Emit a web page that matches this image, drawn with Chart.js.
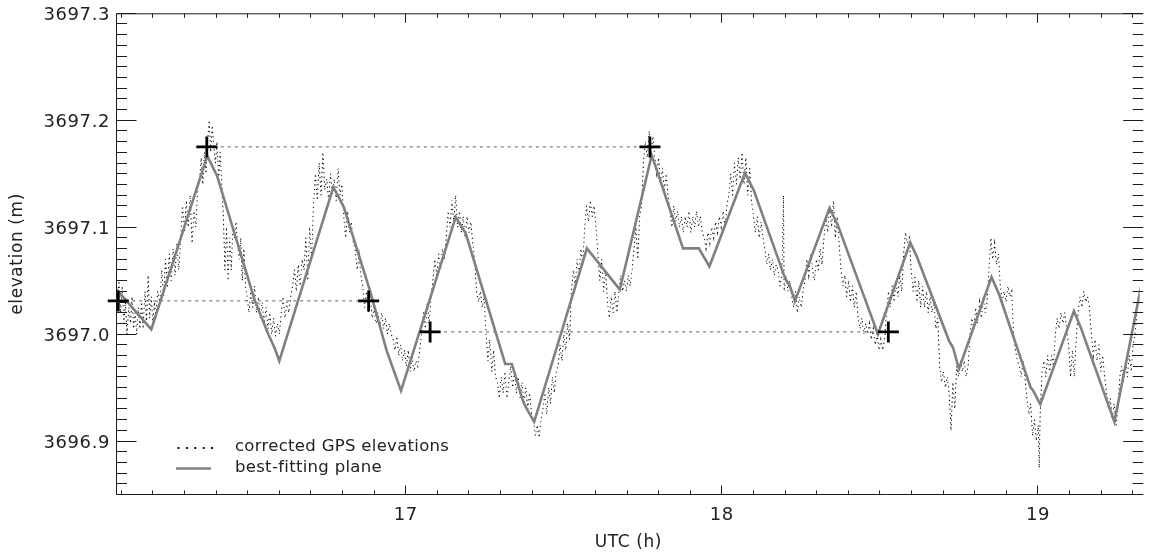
<!DOCTYPE html>
<html><head><meta charset="utf-8">
<script src="https://cdn.jsdelivr.net/npm/chart.js@4.4.1/dist/chart.umd.min.js"></script>
<style>html,body{margin:0;padding:0;background:#fff;overflow:hidden}</style>
</head><body>
<canvas id="c" width="1153" height="558"></canvas>
<script>
// ---- data (UTC hours, elevation m) ----
const xTickLabels = ['17', '18', '19'];
const yTickLabels = ['3696.9', '3697.0', '3697.1', '3697.2', '3697.3'];
const xTitle = 'UTC (h)';
const yTitle = 'elevation (m)';
const legendLabels = ['corrected GPS elevations', 'best-fitting plane'];

const gpsElev = [
[16.088,3697.035],[16.093,3697.05],[16.098,3697.02],[16.103,3697.045],[16.108,3697.01],[16.113,3697.03],[16.118,3697.0],[16.124,3697.025],[16.129,3697.01],[16.134,3697.035],[16.139,3697.005],[16.144,3697.02],
[16.149,3697.0],[16.154,3697.025],[16.159,3697.005],[16.164,3697.03],
[16.169,3697.005],[16.175,3697.04],[16.18,3697.01],[16.185,3697.055],[16.19,3697.015],[16.195,3697.035],[16.2,3697.01],[16.205,3697.03],[16.21,3697.015],[16.215,3697.04],
[16.222,3697.03],[16.228,3697.06],[16.234,3697.035],[16.24,3697.07],[16.246,3697.045],[16.252,3697.075],[16.258,3697.05],[16.264,3697.08],[16.27,3697.055],[16.276,3697.085],[16.282,3697.06],
[16.288,3697.09],[16.294,3697.12],[16.3,3697.095],[16.306,3697.125],[16.312,3697.1],[16.318,3697.13],[16.324,3697.085],[16.33,3697.115],[16.336,3697.1],[16.342,3697.14],
[16.348,3697.145],[16.353,3697.165],[16.358,3697.14],[16.363,3697.17],[16.368,3697.15],
[16.373,3697.18],[16.378,3697.2],[16.383,3697.17],[16.388,3697.195],[16.393,3697.175],
[16.398,3697.16],[16.403,3697.18],[16.408,3697.145],[16.413,3697.17],[16.418,3697.14],
[16.423,3697.11],[16.428,3697.06],[16.433,3697.1],[16.438,3697.05],[16.443,3697.09],[16.448,3697.06],
[16.453,3697.1],[16.458,3697.09],[16.463,3697.105],[16.468,3697.085],
[16.473,3697.07],[16.478,3697.09],[16.483,3697.05],[16.488,3697.08],[16.493,3697.045],
[16.498,3697.035],[16.504,3697.02],[16.51,3697.04],[16.516,3697.025],[16.522,3697.045],[16.528,3697.02],[16.534,3697.035],[16.54,3697.015],[16.546,3697.03],[16.552,3697.01],[16.558,3697.025],[16.564,3697.005],
[16.57,3697.02],[16.576,3697.0],[16.582,3697.015],[16.588,3696.998],[16.594,3697.01],[16.6,3697.0],
[16.606,3697.02],[16.612,3697.035],[16.618,3697.015],[16.624,3697.03],[16.63,3697.02],[16.636,3697.035],
[16.642,3697.045],[16.648,3697.06],[16.654,3697.04],[16.66,3697.065],[16.666,3697.045],[16.672,3697.07],
[16.678,3697.06],[16.684,3697.09],[16.69,3697.05],[16.696,3697.1],[16.702,3697.07],
[16.708,3697.12],[16.714,3697.15],[16.72,3697.125],[16.726,3697.16],[16.732,3697.13],[16.738,3697.17],[16.744,3697.135],
[16.75,3697.145],[16.756,3697.125],[16.762,3697.15],[16.768,3697.13],[16.774,3697.145],[16.78,3697.125],[16.786,3697.155],[16.792,3697.13],[16.798,3697.14],
[16.804,3697.11],[16.81,3697.09],[16.816,3697.115],[16.822,3697.095],[16.828,3697.105],[16.834,3697.085],
[16.84,3697.08],[16.846,3697.06],[16.852,3697.075],[16.858,3697.055],
[16.864,3697.045],[16.87,3697.025],[16.876,3697.04],[16.882,3697.02],[16.888,3697.035],[16.894,3697.015],
[16.9,3697.025],[16.906,3697.01],[16.912,3697.02],[16.918,3697.005],
[16.924,3697.02],[16.93,3697.005],[16.936,3697.015],[16.942,3697.0],[16.948,3697.01],[16.954,3697.0],
[16.96,3696.995],[16.966,3696.985],[16.972,3696.998],[16.978,3696.98],[16.984,3696.99],[16.99,3696.975],[16.996,3696.985],
[17.002,3696.97],[17.008,3696.985],[17.014,3696.965],[17.02,3696.98],[17.026,3696.965],[17.032,3696.975],[17.038,3696.97],[17.044,3696.985],
[17.05,3697.0],[17.056,3697.02],[17.062,3697.005],[17.068,3697.03],[17.074,3697.01],[17.08,3697.035],
[17.086,3697.05],[17.092,3697.07],[17.098,3697.055],[17.104,3697.075],[17.11,3697.06],[17.116,3697.08],[17.122,3697.07],
[17.128,3697.09],[17.134,3697.115],[17.14,3697.1],[17.146,3697.125],[17.152,3697.105],[17.158,3697.13],
[17.164,3697.1],[17.17,3697.115],[17.176,3697.095],[17.182,3697.11],[17.188,3697.09],[17.194,3697.11],[17.2,3697.095],[17.206,3697.105],
[17.212,3697.085],[17.218,3697.07],
[17.224,3697.04],[17.23,3697.03],[17.236,3697.04],[17.242,3697.025],[17.248,3697.035],
[17.254,3697.0],[17.26,3696.975],[17.266,3696.995],[17.272,3696.965],[17.278,3696.985],[17.284,3696.96],
[17.29,3696.955],[17.296,3696.94],[17.302,3696.96],[17.308,3696.945],[17.314,3696.965],[17.32,3696.94],[17.326,3696.955],
[17.332,3696.97],[17.338,3696.95],[17.344,3696.965],[17.35,3696.945],[17.356,3696.96],[17.362,3696.94],[17.368,3696.955],
[17.374,3696.935],[17.38,3696.95],[17.386,3696.93],[17.392,3696.945],[17.398,3696.925],
[17.404,3696.92],[17.41,3696.905],[17.416,3696.915],[17.422,3696.903],[17.428,3696.92],
[17.434,3696.93],[17.44,3696.945],[17.446,3696.925],[17.452,3696.95],[17.458,3696.935],[17.464,3696.96],[17.47,3696.945],[17.476,3696.965],
[17.482,3696.97],[17.488,3696.99],[17.494,3696.975],[17.5,3697.0],[17.506,3696.985],[17.512,3697.01],[17.518,3696.995],
[17.524,3697.04],[17.53,3697.06],[17.536,3697.045],[17.542,3697.07],[17.548,3697.055],[17.554,3697.08],[17.56,3697.065],
[17.566,3697.1],[17.572,3697.12],[17.578,3697.105],[17.584,3697.125],[17.59,3697.11],[17.596,3697.12],[17.602,3697.1],
[17.608,3697.075],[17.614,3697.05],[17.62,3697.07],[17.626,3697.04],[17.632,3697.06],
[17.638,3697.03],[17.644,3697.015],[17.65,3697.035],[17.656,3697.02],[17.662,3697.04],[17.668,3697.02],
[17.674,3697.04],[17.68,3697.055],[17.686,3697.04],[17.692,3697.05],[17.698,3697.04],[17.704,3697.055],[17.71,3697.045],[17.716,3697.06],
[17.722,3697.08],[17.728,3697.1],[17.734,3697.07],[17.74,3697.11],[17.746,3697.12],
[17.752,3697.16],[17.758,3697.18],[17.764,3697.165],[17.77,3697.19],[17.776,3697.17],[17.782,3697.185],[17.788,3697.165],
[17.794,3697.15],[17.8,3697.165],[17.806,3697.14],[17.812,3697.155],[17.818,3697.135],[17.824,3697.15],[17.83,3697.13],
[17.836,3697.115],[17.842,3697.1],[17.848,3697.12],[17.854,3697.105],[17.86,3697.115],[17.866,3697.1],[17.872,3697.11],
[17.878,3697.095],[17.884,3697.11],[17.89,3697.1],[17.896,3697.115],[17.902,3697.095],[17.908,3697.11],[17.914,3697.1],[17.92,3697.115],[17.926,3697.1],[17.932,3697.11],[17.938,3697.095],
[17.944,3697.09],[17.95,3697.08],[17.956,3697.095],[17.962,3697.085],[17.968,3697.1],[17.974,3697.09],
[17.98,3697.105],[17.986,3697.095],[17.992,3697.11],[17.998,3697.1],[18.004,3697.115],[18.01,3697.1],[18.016,3697.12],
[18.022,3697.13],[18.028,3697.15],[18.034,3697.13],[18.04,3697.16],[18.046,3697.14],[18.052,3697.165],[18.058,3697.145],[18.064,3697.17],
[18.07,3697.14],[18.076,3697.165],[18.082,3697.13],[18.088,3697.155],[18.094,3697.125],
[18.1,3697.11],[18.106,3697.095],[18.112,3697.11],[18.118,3697.09],[18.124,3697.105],[18.13,3697.09],
[18.136,3697.08],[18.142,3697.065],[18.148,3697.075],[18.154,3697.06],[18.16,3697.07],[18.166,3697.055],[18.172,3697.065],
[18.178,3697.06],[18.184,3697.045],[18.19,3697.055],[18.195,3697.13],[18.197,3697.04],
[18.203,3697.055],[18.209,3697.04],[18.215,3697.05],[18.221,3697.035],
[18.227,3697.025],[18.233,3697.04],[18.239,3697.02],[18.245,3697.035],[18.251,3697.025],[18.257,3697.04],
[18.263,3697.05],[18.269,3697.07],[18.275,3697.055],[18.281,3697.075],[18.287,3697.06],[18.293,3697.05],[18.299,3697.07],[18.305,3697.06],[18.311,3697.08],[18.317,3697.065],
[18.323,3697.09],[18.329,3697.11],[18.335,3697.095],[18.341,3697.12],[18.347,3697.1],[18.353,3697.125],[18.359,3697.09],[18.365,3697.11],[18.371,3697.085],
[18.377,3697.06],[18.383,3697.045],[18.389,3697.055],[18.395,3697.035],[18.401,3697.05],[18.407,3697.03],[18.413,3697.045],[18.419,3697.025],[18.425,3697.04],
[18.431,3697.015],[18.437,3697.005],[18.443,3697.015],[18.449,3697.0],[18.455,3697.01],[18.461,3697.0],[18.467,3697.01],
[18.473,3696.995],[18.479,3697.005],[18.485,3696.99],[18.491,3697.0],[18.497,3696.985],[18.503,3696.995],[18.509,3696.985],[18.515,3696.995],
[18.521,3697.02],[18.527,3697.04],[18.533,3697.025],[18.539,3697.045],[18.545,3697.03],[18.551,3697.05],[18.557,3697.035],[18.563,3697.055],[18.569,3697.04],
[18.575,3697.075],[18.581,3697.095],[18.587,3697.085],[18.593,3697.09],
[18.599,3697.06],[18.605,3697.04],[18.611,3697.055],[18.617,3697.03],[18.623,3697.05],[18.629,3697.025],[18.635,3697.045],
[18.641,3697.025],[18.647,3697.04],[18.653,3697.02],[18.659,3697.035],[18.665,3697.02],[18.671,3697.03],[18.677,3697.005],[18.683,3697.015],
[18.689,3696.97],[18.695,3696.955],[18.701,3696.965],[18.707,3696.95],[18.713,3696.96],[18.719,3696.945],[18.725,3696.91],[18.731,3696.955],[18.737,3696.93],
[18.743,3696.97],[18.749,3696.96],[18.755,3696.975],[18.761,3696.965],[18.767,3696.975],[18.773,3696.96],[18.779,3696.97],
[18.785,3697.0],[18.791,3697.015],[18.797,3697.005],[18.803,3697.025],[18.809,3697.01],[18.815,3697.03],[18.821,3697.015],[18.827,3697.035],[18.833,3697.02],[18.839,3697.03],
[18.845,3697.06],[18.851,3697.09],[18.857,3697.07],[18.863,3697.085],[18.869,3697.065],[18.875,3697.075],
[18.881,3697.045],[18.887,3697.03],[18.893,3697.04],[18.899,3697.03],[18.905,3697.045],[18.911,3697.035],[18.917,3697.04],
[18.923,3697.0],[18.929,3696.985],[18.935,3696.975],[18.941,3696.97],[18.947,3696.96],[18.953,3696.975],[18.959,3696.96],
[18.965,3696.94],[18.971,3696.925],[18.977,3696.935],[18.983,3696.905],[18.989,3696.92],[18.995,3696.9],[19.001,3696.915],[19.004,3696.875],[19.007,3696.925],
[19.013,3696.965],[19.019,3696.975],[19.025,3696.96],[19.031,3696.98],[19.037,3696.965],[19.043,3696.98],[19.049,3696.97],
[19.055,3697.0],[19.061,3697.015],[19.067,3697.005],[19.073,3697.02],[19.079,3697.01],[19.085,3697.02],[19.091,3697.005],
[19.097,3696.99],[19.103,3696.96],[19.109,3696.985],[19.115,3696.96],[19.121,3696.995],
[19.127,3697.02],[19.133,3697.035],[19.139,3697.025],[19.145,3697.04],[19.151,3697.03],[19.157,3697.035],[19.163,3697.025],
[19.169,3697.0],[19.175,3696.98],[19.181,3696.995],[19.187,3696.975],[19.193,3696.99],[19.199,3696.965],[19.205,3696.98],[19.211,3696.96],
[19.217,3696.945],[19.223,3696.93],[19.229,3696.94],[19.235,3696.92],[19.241,3696.935],[19.247,3696.915],[19.253,3696.93],
[19.259,3696.96],[19.265,3696.97],[19.271,3696.955],[19.277,3696.975],[19.283,3696.96],[19.289,3696.98],[19.295,3696.965],[19.301,3696.99],[19.307,3697.0],[19.313,3697.02]
];

const planeH = [16.0856,16.195,16.372,16.403,16.523,16.565,16.586,16.600,16.771,16.804,16.8875,16.94,16.985,17.158,17.19,17.3147,17.3356,17.3719,17.3825,17.4062,17.5731,17.6772,17.7781,17.8772,17.9272,17.9606,18.0731,18.1013,18.2,18.2156,18.2313,18.3406,18.3669,18.4938,18.5959,18.6169,18.7188,18.7313,18.75,18.8531,18.8772,18.9763,18.9844,19.0075,19.1138,19.1356,19.2419,19.34];
const planeV = [3697.0416,3697.0045,3697.1667,3697.1482,3697.0308,3697.000,3696.9863,3696.975,3697.1374,3697.1188,3697.040,3696.984,3696.947,3697.1095,3697.094,3696.9721,3696.9721,3696.9365,3696.9304,3696.918,3697.0802,3697.0416,3697.1673,3697.0802,3697.0802,3697.0632,3697.1506,3697.1343,3697.0524,3697.0447,3697.0308,3697.1179,3697.1019,3697.000,3697.0857,3697.0725,3696.9937,3696.9875,3696.9675,3697.0533,3697.037,3696.9504,3696.9474,3696.9344,3697.0215,3697.006,3696.918,3697.065];

const markH = [16.0905, 16.3706, 16.8826, 17.0771, 17.7724, 18.5267];
const markV = [3697.031, 3697.175, 3697.031, 3697.002, 3697.175, 3697.002];

const refLevel = [3697.031, 3697.175, 3697.002];
const refFrom  = [16.0905, 16.3706, 17.0771];
const refTo    = [16.8826, 17.7724, 18.5267];

// ---- chart ----
const FONT = 'DejaVu Sans';
Chart.defaults.font.family = FONT;
Chart.defaults.color = '#222';

const refSets = refLevel.map((lv, i) => ({
  data: [{x: refFrom[i], y: lv}, {x: refTo[i], y: lv}],
  showLine: true, borderColor: '#808080', borderWidth: 1.2, borderDash: [3, 4],
  pointRadius: 0, order: 2
}));

const frame = {
  id: 'frame',
  beforeDraw(chart) { chart.ctx.letterSpacing = '0.6px'; },
  afterDraw(chart) {
    const {ctx, chartArea: a} = chart;
    const xs = chart.scales.x, ys = chart.scales.y;
    ctx.save();
    ctx.letterSpacing = '0px';
    ctx.strokeStyle = '#1c1c1c';
    ctx.lineWidth = 1;
    const L = a.left - 0.5, T = a.top + 0.5, B = Math.floor(a.bottom) + 0.5;
    const R = a.right + 3.5;            // right frame edge sits just past the picture edge
    ctx.beginPath();
    ctx.moveTo(R, T); ctx.lineTo(L, T); ctx.lineTo(L, B); ctx.lineTo(R, B);
    xs.ticks.forEach(t => {
      const px = Math.floor(xs.getPixelForValue(t.value)) + 0.5;
      const major = Math.abs(t.value - Math.round(t.value)) < 1e-6;
      const len = major ? 9 : 4;
      ctx.moveTo(px, B); ctx.lineTo(px, B - len);
      ctx.moveTo(px, T); ctx.lineTo(px, T + len);
    });
    ys.ticks.forEach(t => {
      const py = Math.floor(ys.getPixelForValue(t.value)) + 0.5;
      const major = Math.abs(t.value * 10 - Math.round(t.value * 10)) < 1e-6;
      const len = major ? 20 : 10.5;
      ctx.moveTo(L, py); ctx.lineTo(L + len, py);
      ctx.moveTo(R, py); ctx.lineTo(R - len, py);
    });
    ctx.stroke();

    // legend
    ctx.fillStyle = '#111';
    for (let i = 0; i < 5; i++) ctx.fillRect(177.5 + i * 8.4, 447, 2, 2);
    ctx.strokeStyle = '#808080'; ctx.lineWidth = 2.6;
    ctx.beginPath(); ctx.moveTo(176, 468.5); ctx.lineTo(211, 468.5); ctx.stroke();
    ctx.letterSpacing = '0.3px';
    ctx.fillStyle = '#222';
    ctx.font = '16.5px "' + FONT + '"';
    ctx.textBaseline = 'middle';
    ctx.fillText(legendLabels[0], 235, 447);
    ctx.fillText(legendLabels[1], 235, 468);
    ctx.restore();
  }
};

new Chart(document.getElementById('c'), {
  type: 'scatter',
  data: {
    datasets: [
      { data: markH.map((h, i) => ({x: h, y: markV[i]})),
        pointStyle: 'cross', pointRadius: 10.5, pointBorderWidth: 2.8,
        pointBorderColor: '#000', pointBackgroundColor: '#000', showLine: false, clip: false, order: 0 },
      { data: planeH.map((h, i) => ({x: h, y: planeV[i]})),
        showLine: true, borderColor: '#808080', borderWidth: 2.6, pointRadius: 0, tension: 0, order: 1 },
      ...refSets,
      { data: gpsElev.map(p => ({x: p[0], y: p[1]})),
        showLine: true, borderColor: '#000', borderWidth: 1.1, borderDash: [0.3, 4.2],
        borderCapStyle: 'round', pointRadius: 0, tension: 0, order: 3 }
    ]
  },
  options: {
    responsive: false, animation: false, devicePixelRatio: 1,
    layout: { padding: { top: 10, right: 0, left: 0, bottom: 0 } },
    plugins: { legend: { display: false }, tooltip: { enabled: false } },
    scales: {
      x: {
        type: 'linear', min: 16.0865, max: 19.3219,
        grid: { display: false, drawTicks: false }, border: { display: false },
        ticks: {
          stepSize: 0.1, autoSkip: false, maxRotation: 0, minRotation: 0, includeBounds: false,
          padding: 10, font: { size: 18 }, color: '#222',
          callback: v => xTickLabels.find(l => Math.abs(parseFloat(l) - v) < 1e-6) || ''
        },
        title: { display: true, text: xTitle, font: { size: 17 }, color: '#222', padding: { top: 0, bottom: 5 } },
        afterFit: s => { s.height = 63.5; s.paddingLeft = 0; s.paddingRight = 0; }
      },
      y: {
        type: 'linear', min: 3696.85, max: 3697.3,
        grid: { display: false, drawTicks: false }, border: { display: false },
        ticks: {
          stepSize: 0.01, autoSkip: false, includeBounds: false,
          padding: 7, labelOffset: 2, font: { size: 18 }, color: '#222',
          callback: v => yTickLabels.find(l => Math.abs(parseFloat(l) - v) < 1e-6) || ''
        },
        title: { display: true, text: yTitle, font: { size: 17 }, color: '#222', padding: { top: 7, bottom: 0 } },
        afterFit: s => { s.width = 117; s.paddingTop = 0; s.paddingBottom = 0; }
      }
    }
  },
  plugins: [frame]
});
</script>
</body></html>
